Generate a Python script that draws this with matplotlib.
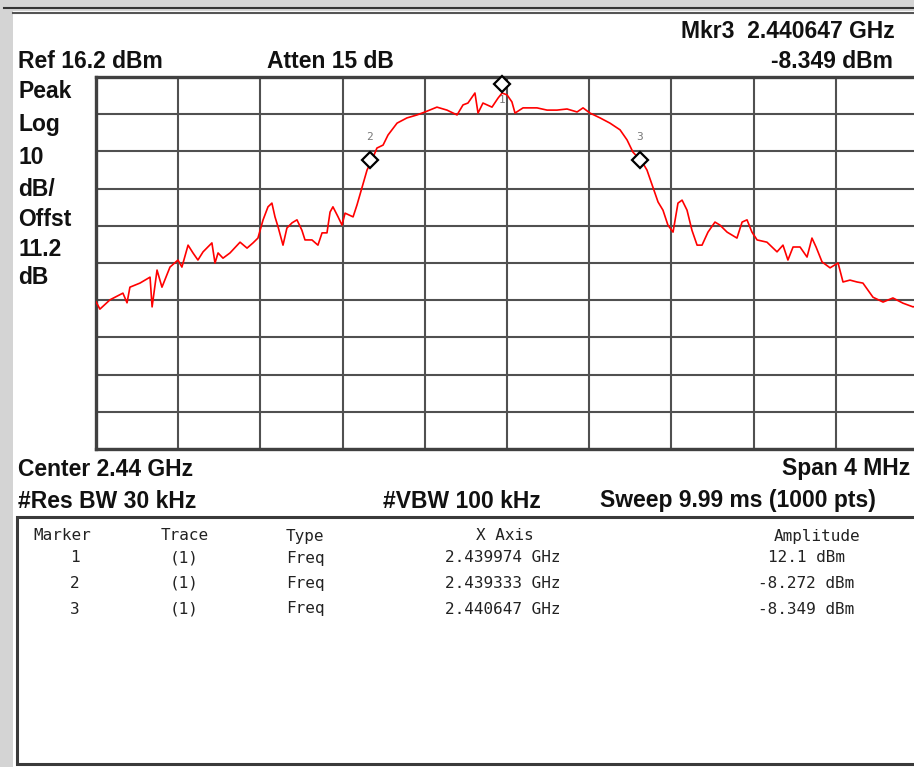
import matplotlib
matplotlib.use("Agg")
import matplotlib.pyplot as plt
from matplotlib.patches import Rectangle
from matplotlib.lines import Line2D
from matplotlib.transforms import offset_copy

# ---- DATA ----
CENTER_MHZ = 2440.0
SPAN_MHZ = 4.0
REF_DBM = 16.2
DB_PER_DIV = 10

# trace: offset from left edge (MHz), level (dBm)
offset_mhz = [
    0.000, 0.019, 0.068, 0.131, 0.151, 0.165, 0.214, 0.263, 0.273, 0.297,
    0.321, 0.360, 0.399, 0.418, 0.448, 0.472, 0.496, 0.521, 0.564, 0.579,
    0.594, 0.618, 0.652, 0.701, 0.735, 0.764, 0.788, 0.813, 0.837, 0.856,
    0.871, 0.886, 0.910, 0.929, 0.954, 0.978, 1.002, 1.017, 1.051, 1.080,
    1.100, 1.124, 1.139, 1.153, 1.178, 1.197, 1.212, 1.251, 1.270, 1.294,
    1.319, 1.343, 1.367, 1.397, 1.421, 1.465, 1.513, 1.562, 1.601, 1.659,
    1.708, 1.757, 1.786, 1.810, 1.844, 1.859, 1.883, 1.927, 1.956, 1.976,
    2.000, 2.024, 2.039, 2.078, 2.146, 2.195, 2.243, 2.292, 2.341, 2.370,
    2.404, 2.453, 2.501, 2.550, 2.584, 2.613, 2.657, 2.681, 2.710, 2.735,
    2.759, 2.783, 2.808, 2.832, 2.852, 2.876, 2.900, 2.925, 2.949, 2.978,
    3.012, 3.036, 3.071, 3.119, 3.144, 3.168, 3.192, 3.217, 3.265, 3.314,
    3.343, 3.367, 3.392, 3.426, 3.460, 3.484, 3.504, 3.533, 3.572, 3.611,
    3.635, 3.669, 3.703, 3.732, 3.781, 3.830, 3.878, 3.927, 3.976, 4.000,
]
level_dbm = [
    -44.2, -46.2, -43.7, -41.9, -44.5, -40.3, -39.2, -37.6, -45.6, -35.7,
    -40.3, -34.9, -33.0, -34.9, -29.0, -31.1, -33.0, -30.8, -28.4, -33.8,
    -31.1, -32.5, -31.1, -28.2, -29.8, -28.4, -27.1, -22.2, -18.7, -17.7,
    -21.4, -24.1, -29.0, -24.4, -23.0, -22.2, -25.0, -27.6, -27.6, -29.0,
    -25.7, -25.7, -20.1, -18.7, -21.4, -23.6, -20.4, -21.4, -18.2, -13.6,
    -8.8, -6.1, -2.9, -2.1, 0.6, 3.8, 5.2, 6.0, 6.8, 8.1,
    7.3, 6.0, 8.7, 9.2, 11.9, 6.5, 9.2, 8.1, 10.5, 11.9,
    11.4, 9.5, 6.5, 7.9, 7.9, 7.3, 7.3, 7.6, 6.8, 7.9,
    6.5, 5.2, 3.8, 2.0, -0.7, -4.0, -6.6, -8.8, -13.4, -17.4,
    -19.6, -23.6, -25.5, -17.7, -16.9, -19.6, -25.0, -29.0, -29.0, -25.5,
    -22.8, -23.6, -25.5, -27.1, -22.8, -22.2, -25.5, -27.6, -28.2, -30.8,
    -29.0, -33.0, -29.5, -29.5, -32.2, -27.1, -29.5, -33.5, -35.1, -33.8,
    -38.9, -38.4, -38.9, -39.2, -43.0, -44.3, -43.2, -44.6, -45.6, -45.2,
]

marker_ids = ["1", "2", "3"]
marker_ghz = [2.439974, 2.439333, 2.440647]
marker_dbm = [12.1, -8.272, -8.349]

header_left = ["Peak", "Log", "10", "dB/", "Offst", "11.2", "dB"]
table_cols = ["Marker", "Trace", "Type", "X Axis", "Amplitude"]
# -------------------

W, H = 914, 767
fig = plt.figure(figsize=(W / 100, H / 100), dpi=100)
fig.patch.set_facecolor("white")

BOLD = dict(family=["Liberation Sans Narrow", "Liberation Sans", "DejaVu Sans"],
            fontweight="bold", fontsize=16.5, color="#111111")
SMALL = dict(family=["DejaVu Sans Mono"], fontsize=11.5, color="#222222")


def fx(x):
    return x / W


def fy(y):
    return 1 - y / H


def put(x, y, s, ha="left", style=BOLD):
    fig.text(fx(x), fy(y), s, ha=ha, va="center", **style)


# window chrome: gray strip top and left, dark rules
fig.add_artist(Rectangle((0, fy(11)), 1, 11 / H, transform=fig.transFigure,
                         facecolor="#d4d4d4", edgecolor="none"))
fig.add_artist(Rectangle((0, 0), fx(13), 1, transform=fig.transFigure,
                         facecolor="#d4d4d4", edgecolor="none"))
fig.add_artist(Line2D([fx(4), 1], [fy(8), fy(8)], color="#333333", lw=1.5))
fig.add_artist(Line2D([fx(13), 1], [fy(13), fy(13)], color="#555555", lw=1.5))

# ---- trace window ----
ax = fig.add_axes([fx(96), fy(449), 822 / W, 372 / H])
freq_mhz = [CENTER_MHZ - SPAN_MHZ / 2 + f for f in offset_mhz]
ax.plot(freq_mhz, level_dbm, color="#ff0000", lw=1.2, zorder=3)

x0 = CENTER_MHZ - SPAN_MHZ / 2
bottom = REF_DBM - 10 * DB_PER_DIV
ax.set_xlim(x0, x0 + SPAN_MHZ)
ax.set_ylim(bottom, REF_DBM)
ax.set_xticks([x0 + i * SPAN_MHZ / 10 for i in range(11)])
ax.set_yticks([bottom + i * DB_PER_DIV for i in range(11)])
ax.tick_params(length=0, labelbottom=False, labelleft=False)
ax.grid(True, color="#505050", lw=1.5)
ax.set_axisbelow(True)
for sp in ax.spines.values():
    sp.set_color("#404040")
    sp.set_linewidth(2.4)

# markers: diamond sits just above the trace point, id label in gray
diamond_tr = offset_copy(ax.transData, fig=fig, x=0, y=8, units="dots")
for mid, ghz, dbm in zip(marker_ids, marker_ghz, marker_dbm):
    ax.plot(ghz * 1000, dbm, marker="D", ms=8, mfc="white", mec="black",
            mew=1.6, transform=diamond_tr, zorder=4, clip_on=False)
    dy = -8 if mid == "1" else 31
    lab_tr = offset_copy(ax.transData, fig=fig, x=0, y=dy, units="dots")
    ax.text(ghz * 1000, dbm, mid, transform=lab_tr, ha="center", va="center",
            fontsize=8, color="#777777", family="DejaVu Sans Mono", zorder=2)

# ---- annotations ----
put(895, 32, f"Mkr3  {marker_ghz[2]:.6f} GHz", ha="right")
put(18, 62, f"Ref {REF_DBM} dBm")
put(267, 62, "Atten 15 dB")
put(893, 62, f"{marker_dbm[2]:.3f} dBm", ha="right")
for i, s in enumerate(header_left):
    put(18, [92, 124, 157, 189, 220, 249, 278][i], s)

put(18, 469, f"Center {CENTER_MHZ / 1000:.2f} GHz")
put(910, 469, f"Span {SPAN_MHZ:g} MHz", ha="right")
put(18, 501, "#Res BW 30 kHz")
put(383, 501, "#VBW 100 kHz")
put(600, 501, "Sweep 9.99 ms (1000 pts)")

# ---- marker table ----
fig.add_artist(Rectangle((fx(17), fy(764)), 1, (764 - 517) / H,
                         transform=fig.transFigure, facecolor="white",
                         edgecolor="#3a3a3a", lw=2.2))
col_x = [62, 185, 286, 505, 817]
col_ha = ["center", "center", "left", "center", "center"]
for x, s, ha in zip(col_x, table_cols, col_ha):
    put(x, 536, s, ha=ha, style=SMALL)
for r, (mid, ghz, dbm) in enumerate(zip(marker_ids, marker_ghz, marker_dbm)):
    y = 558 + r * 25.5
    put(75, y, mid, ha="center", style=SMALL)
    put(184, y, "(1)", ha="center", style=SMALL)
    put(286, y, "Freq", style=SMALL)
    put(503, y, f"{ghz:.6f} GHz", ha="center", style=SMALL)
    amp = f"{dbm:.1f} dBm" if abs(dbm) >= 10 else f"{dbm:.3f} dBm"
    put(806, y, amp, ha="center", style=SMALL)

fig.savefig("out.png", dpi=100)
